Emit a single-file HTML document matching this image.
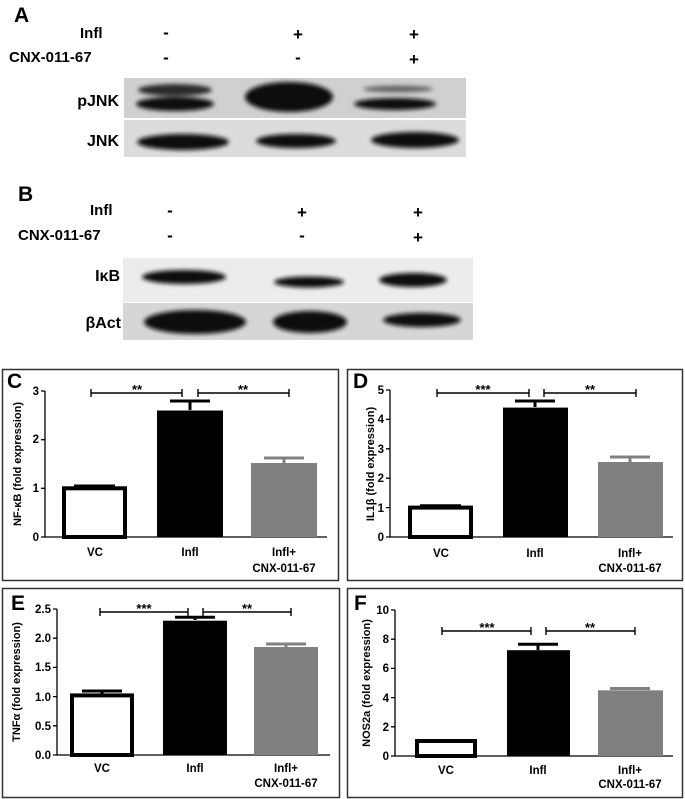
<!DOCTYPE html>
<html><head><meta charset="utf-8"><style>
html,body{margin:0;padding:0;background:#fff;}
svg{display:block;}
text{font-family:"Liberation Sans",Arial,sans-serif;font-weight:bold;fill:#000;}
</style></head><body>
<svg width="685" height="799" viewBox="0 0 685 799" xmlns="http://www.w3.org/2000/svg">
<defs>
<filter id="bl" x="-20%" y="-50%" width="140%" height="200%"><feGaussianBlur stdDeviation="2"/></filter>
</defs>
<!-- Panel A -->
<text x="14" y="22" font-size="21">A</text>
<text x="80" y="38" font-size="15">Infl</text>
<text x="9" y="62" font-size="15">CNX-011-67</text>
<g font-size="17" text-anchor="middle">
<text x="166" y="38">-</text><text x="298" y="40">+</text><text x="414" y="40">+</text>
<text x="166" y="63">-</text><text x="298" y="63">-</text><text x="414" y="65">+</text>
</g>
<rect x="124" y="78" width="342" height="40" fill="#d0d0d0"/>
<rect x="124" y="120" width="342" height="37" fill="#dcdcdc"/>
<g filter="url(#bl)" fill="#111">
<ellipse cx="175" cy="90" rx="37" ry="6" fill="#2a2a2a"/>
<ellipse cx="175" cy="104" rx="39" ry="7"/>
<ellipse cx="289" cy="97" rx="44" ry="15"/>
<ellipse cx="398" cy="89" rx="35" ry="3.5" fill="#666"/>
<ellipse cx="395" cy="104" rx="41" ry="6"/>
<ellipse cx="183" cy="142" rx="46" ry="8"/>
<ellipse cx="296" cy="141" rx="40" ry="7"/>
<ellipse cx="415" cy="140" rx="44" ry="8"/>
</g>
<text x="119" y="106" font-size="16" text-anchor="end">pJNK</text>
<text x="119" y="146" font-size="16" text-anchor="end">JNK</text>
<!-- Panel B -->
<text x="18" y="201" font-size="21">B</text>
<text x="90" y="215" font-size="15">Infl</text>
<text x="18" y="240" font-size="15">CNX-011-67</text>
<g font-size="17" text-anchor="middle">
<text x="170" y="216">-</text><text x="302" y="218">+</text><text x="418" y="218">+</text>
<text x="170" y="241">-</text><text x="302" y="241">-</text><text x="418" y="243">+</text>
</g>
<rect x="123" y="258" width="350" height="44" fill="#ececec"/>
<rect x="123" y="303" width="350" height="37" fill="#d6d6d6"/>
<g filter="url(#bl)" fill="#111">
<ellipse cx="184" cy="277" rx="42" ry="7"/>
<ellipse cx="309" cy="282" rx="35" ry="5.5"/>
<ellipse cx="413" cy="280" rx="34" ry="7"/>
<ellipse cx="195" cy="322" rx="51" ry="12"/>
<ellipse cx="310" cy="322" rx="37" ry="11"/>
<ellipse cx="422" cy="320" rx="39" ry="7"/>
</g>
<text x="120" y="281" font-size="16" text-anchor="end">IκB</text>
<text x="121" y="328" font-size="16" text-anchor="end">βAct</text>

<!-- Panel boxes -->
<g fill="none" stroke="#333" stroke-width="1.5">
<rect x="2.5" y="369.5" width="336" height="211"/>
<rect x="347.5" y="369.5" width="335" height="211"/>
<rect x="2.5" y="588.5" width="337" height="209"/>
<rect x="347.5" y="588.5" width="335" height="209"/>
</g>

<!-- Panel C -->
<text x="7" y="388" font-size="21">C</text>
<g stroke="#000" stroke-width="1.3" fill="none">
<path d="M45 391V537H327"/>
<path d="M41 391H45M41 439.7H45M41 488.3H45M41 537H45"/>
</g>
<g font-size="11.5" text-anchor="end">
<text x="39" y="395">3</text><text x="39" y="443">2</text><text x="39" y="492">1</text><text x="39" y="541">0</text>
</g>
<text transform="translate(21,464) rotate(-90)" font-size="11" text-anchor="middle">NF-κB (fold expression)</text>
<rect x="64" y="488.3" width="61" height="48.7" fill="#fff" stroke="#000" stroke-width="4"/>
<path d="M74 486H115" stroke="#000" stroke-width="3"/>
<rect x="157" y="410.5" width="66" height="126.5" fill="#000"/>
<path d="M190 410V401M170 401H210" stroke="#000" stroke-width="3"/>
<rect x="251" y="463" width="66" height="74" fill="#808080"/>
<path d="M284 463V458M264 458H304" stroke="#808080" stroke-width="3"/>
<g stroke="#000" stroke-width="1.4"><path d="M91 393H182M91 389V397M182 389V397M198 393H289M198 389V397M289 389V397"/></g>
<text x="137" y="394" font-size="13" text-anchor="middle">**</text>
<text x="243" y="394" font-size="13" text-anchor="middle">**</text>
<g font-size="11.5" text-anchor="middle">
<text x="95" y="556">VC</text><text x="190" y="556">Infl</text><text x="284" y="556">Infl+</text><text x="284" y="572">CNX-011-67</text>
</g>

<!-- Panel D -->
<text x="353" y="388" font-size="21">D</text>
<g stroke="#000" stroke-width="1.3" fill="none">
<path d="M390 390V537H673"/>
<path d="M386 390H390M386 419.4H390M386 448.8H390M386 478.2H390M386 507.6H390M386 537H390"/>
</g>
<g font-size="11.5" text-anchor="end">
<text x="384" y="394">5</text><text x="384" y="423">4</text><text x="384" y="453">3</text><text x="384" y="482">2</text><text x="384" y="512">1</text><text x="384" y="541">0</text>
</g>
<text transform="translate(374,464) rotate(-90)" font-size="11" text-anchor="middle">IL1β (fold expression)</text>
<rect x="410" y="507.6" width="61" height="29.4" fill="#fff" stroke="#000" stroke-width="4"/>
<path d="M420 505.8H461" stroke="#000" stroke-width="3"/>
<rect x="503" y="407.6" width="65" height="129.4" fill="#000"/>
<path d="M535 407V401M515 401H555" stroke="#000" stroke-width="3"/>
<rect x="598" y="462" width="65" height="75" fill="#808080"/>
<path d="M630 462V457M610 457H650" stroke="#808080" stroke-width="3"/>
<g stroke="#000" stroke-width="1.4"><path d="M437 393H529M437 389V397M529 389V397M544 393H636M544 389V397M636 389V397"/></g>
<text x="483" y="394" font-size="13" text-anchor="middle">***</text>
<text x="590" y="394" font-size="13" text-anchor="middle">**</text>
<g font-size="11.5" text-anchor="middle">
<text x="441" y="557">VC</text><text x="535" y="557">Infl</text><text x="630" y="557">Infl+</text><text x="630" y="572">CNX-011-67</text>
</g>

<!-- Panel E -->
<text x="11" y="610" font-size="21">E</text>
<g stroke="#000" stroke-width="1.3" fill="none">
<path d="M57 609V755H330"/>
<path d="M53 609H57M53 638.2H57M53 667.4H57M53 696.6H57M53 725.8H57M53 755H57"/>
</g>
<g font-size="11.5" text-anchor="end">
<text x="51" y="613">2.5</text><text x="51" y="642">2.0</text><text x="51" y="671">1.5</text><text x="51" y="701">1.0</text><text x="51" y="730">0.5</text><text x="51" y="759">0.0</text>
</g>
<text transform="translate(20,682) rotate(-90)" font-size="11" text-anchor="middle">TNFα (fold expression)</text>
<rect x="72" y="695.4" width="60" height="59.6" fill="#fff" stroke="#000" stroke-width="4"/>
<path d="M102 695V691M82 691H122" stroke="#000" stroke-width="3"/>
<rect x="163" y="620.7" width="64" height="134.3" fill="#000"/>
<path d="M195 620V617.2M175 617.2H215" stroke="#000" stroke-width="3"/>
<rect x="254" y="647" width="64" height="108" fill="#808080"/>
<path d="M286 647V644M266 644H306" stroke="#808080" stroke-width="3"/>
<g stroke="#000" stroke-width="1.4"><path d="M100 612H188M100 608V616M188 608V616M203 612H291M203 608V616M291 608V616"/></g>
<text x="144" y="613" font-size="13" text-anchor="middle">***</text>
<text x="247" y="613" font-size="13" text-anchor="middle">**</text>
<g font-size="11.5" text-anchor="middle">
<text x="102" y="772">VC</text><text x="195" y="772">Infl</text><text x="286" y="772">Infl+</text><text x="286" y="787">CNX-011-67</text>
</g>

<!-- Panel F -->
<text x="354" y="610" font-size="21">F</text>
<g stroke="#000" stroke-width="1.3" fill="none">
<path d="M395 610V756H673"/>
<path d="M391 610H395M391 639.2H395M391 668.4H395M391 697.6H395M391 726.8H395M391 756H395"/>
</g>
<g font-size="11.5" text-anchor="end">
<text x="389" y="614">10</text><text x="389" y="643">8</text><text x="389" y="672">6</text><text x="389" y="702">4</text><text x="389" y="731">2</text><text x="389" y="760">0</text>
</g>
<text transform="translate(370,683) rotate(-90)" font-size="11" text-anchor="middle">NOS2a (fold expression)</text>
<rect x="417" y="741" width="58" height="15" fill="#fff" stroke="#000" stroke-width="4"/>
<path d="M426 740H466" stroke="#000" stroke-width="2"/>
<rect x="507" y="650.2" width="63" height="105.8" fill="#000"/>
<path d="M538 650V644.3M518 644.3H558" stroke="#000" stroke-width="3"/>
<rect x="598" y="690.3" width="65" height="65.7" fill="#808080"/>
<path d="M610 688.5H650" stroke="#808080" stroke-width="3"/>
<g stroke="#000" stroke-width="1.4"><path d="M442 631H531M442 627V635M531 627V635M546 631H635M546 627V635M635 627V635"/></g>
<text x="487" y="632" font-size="13" text-anchor="middle">***</text>
<text x="590" y="632" font-size="13" text-anchor="middle">**</text>
<g font-size="11.5" text-anchor="middle">
<text x="446" y="774">VC</text><text x="538" y="774">Infl</text><text x="630" y="774">Infl+</text><text x="630" y="788">CNX-011-67</text>
</g>
</svg>
</body></html>
